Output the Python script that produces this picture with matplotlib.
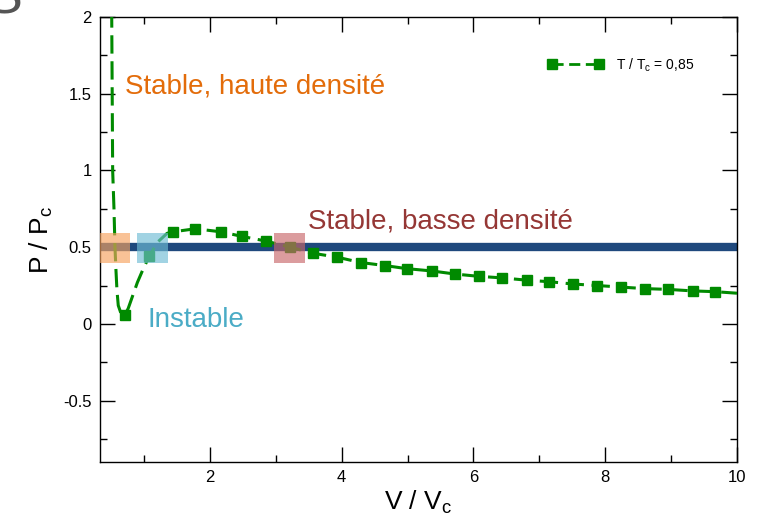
import numpy as np
import matplotlib
matplotlib.use("Agg")
import matplotlib.pyplot as plt
from matplotlib.patches import Rectangle
from matplotlib.ticker import MultipleLocator, FuncFormatter

plt.rcParams['font.family'] = ['Liberation Sans', 'DejaVu Sans']
plt.rcParams['mathtext.fontset'] = 'custom'
plt.rcParams['mathtext.rm'] = 'Liberation Sans'

# isotherm (V/Vc, P/Pc)
v_line = [0.51, 0.525, 0.545, 0.56, 0.575, 0.59, 0.61, 0.65, 0.71, 0.76, 0.90, 0.99, 1.08,
          1.20, 1.35, 1.44, 1.78, 2.17, 2.49, 2.85, 3.22, 3.57, 3.93, 4.29, 4.66,
          4.99, 5.37, 5.72, 6.08, 6.43, 6.81, 7.15, 7.51, 7.88, 8.24, 8.60, 8.95,
          9.33, 9.67, 10.0]
p_line = [2.05, 1.0, 0.75, 0.5, 0.35, 0.22, 0.12, 0.07, 0.06, 0.10, 0.27, 0.36, 0.44,
          0.53, 0.59, 0.60, 0.62, 0.60, 0.57, 0.54, 0.50, 0.46, 0.435, 0.40, 0.38,
          0.36, 0.345, 0.325, 0.31, 0.30, 0.285, 0.275, 0.26, 0.25, 0.24, 0.23, 0.225,
          0.215, 0.21, 0.20]
v_mark = [0.71, 1.08, 1.44, 1.78, 2.17, 2.49, 2.85, 3.22, 3.57, 3.93, 4.29, 4.66,
          4.99, 5.37, 5.72, 6.08, 6.43, 6.81, 7.15, 7.51, 7.88, 8.24, 8.60, 8.95,
          9.33, 9.67]
p_mark = [0.06, 0.44, 0.60, 0.62, 0.60, 0.57, 0.54, 0.50, 0.46, 0.435, 0.40, 0.38,
          0.36, 0.345, 0.325, 0.31, 0.30, 0.285, 0.275, 0.26, 0.25, 0.24, 0.23, 0.225,
          0.215, 0.21]
p_sat = 0.5

# phase boxes: (x0, x1, colour)
boxes = [(0.33, 0.79, '#f6a25e'), (0.90, 1.37, '#6fbcd4'), (2.97, 3.44, '#c9676a')]
box_y = (0.40, 0.59)

green = '#008a00'

fig = plt.figure(figsize=(7.59, 5.21), dpi=100)
ax = fig.add_axes([0.1318, 0.1132, 0.8392, 0.8542])

ax.axhline(p_sat, color='#1f497d', lw=6, zorder=2)
ax.plot(v_line, p_line, color=green, lw=2.2, dashes=(6, 2.5), zorder=3)
ax.plot(v_mark, p_mark, ls='none', marker='s', ms=7, color=green, zorder=4)
ax.plot([], [], color=green, lw=2, dashes=(4, 2), marker='s', ms=7,
        label='T / T$_\\mathrm{c}$ = 0,85')

for x0, x1, c in boxes:
    ax.add_patch(Rectangle((x0, box_y[0]), x1 - x0, box_y[1] - box_y[0],
                           facecolor=c, alpha=0.65, lw=0, zorder=5))

ax.text(0.71, 1.55, 'Stable, haute densité', color='#e36c0a', fontsize=20,
        va='center', ha='left')
ax.text(3.49, 0.67, 'Stable, basse densité', color='#953735', fontsize=20,
        va='center', ha='left')
ax.text(1.06, 0.025, 'Instable', color='#4bacc6', fontsize=20,
        va='center', ha='left')

ax.set_xlim(1/3, 10)
ax.set_ylim(-0.9, 2)
ax.xaxis.set_major_locator(MultipleLocator(2))
ax.xaxis.set_minor_locator(MultipleLocator(1))
ax.yaxis.set_major_locator(MultipleLocator(0.5))
ax.yaxis.set_minor_locator(MultipleLocator(0.25))
ax.yaxis.set_major_formatter(FuncFormatter(lambda v, p: f'{v:g}'))
ax.tick_params(which='both', direction='in', top=True, right=True, labelsize=12)
ax.tick_params(which='major', length=11, width=1, pad=6)
ax.tick_params(which='minor', length=5, width=1)
for s in ax.spines.values():
    s.set_linewidth(1)

ax.set_xlabel('V / V$_\\mathrm{c}$', fontsize=19, labelpad=2)
ax.set_ylabel('P / P$_\\mathrm{c}$', fontsize=19, labelpad=6)

ax.legend(loc='upper right', bbox_to_anchor=(0.952, 0.94), frameon=False,
          fontsize=10, numpoints=2, handlelength=4.0, handletextpad=0.9)

fig.text(0.005, 1.0, 'S', color='#555555', fontsize=40, ha='center', va='center')

fig.savefig('out.png', dpi=100)
